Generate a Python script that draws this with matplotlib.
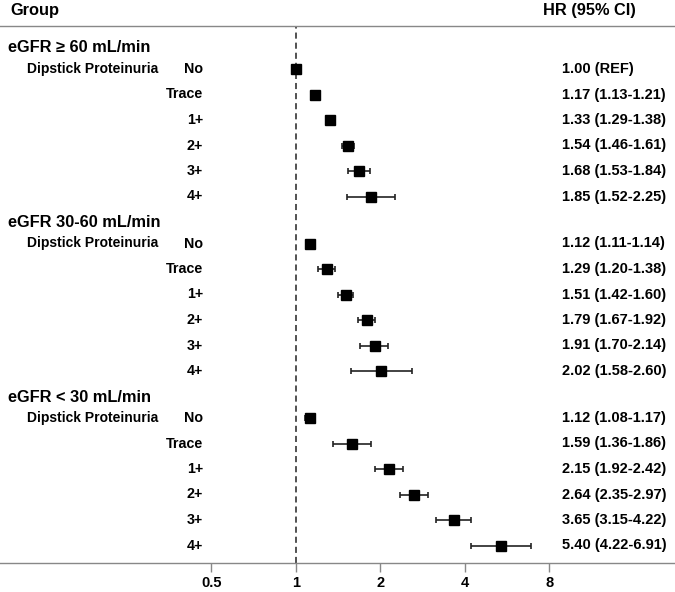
import matplotlib
matplotlib.use("Agg")
import matplotlib.pyplot as plt
import matplotlib.transforms as mtransforms

plt.rcParams['font.family'] = ['Liberation Sans', 'DejaVu Sans']
plt.rcParams['font.weight'] = 'bold'

groups = ['eGFR \u2265 60 mL/min', 'eGFR 30-60 mL/min', 'eGFR < 30 mL/min']
categories = ['No', 'Trace', '1+', '2+', '3+', '4+']

hr = [
    [1.00, 1.17, 1.33, 1.54, 1.68, 1.85],
    [1.12, 1.29, 1.51, 1.79, 1.91, 2.02],
    [1.12, 1.59, 2.15, 2.64, 3.65, 5.40],
]
lower = [
    [1.00, 1.13, 1.29, 1.46, 1.53, 1.52],
    [1.11, 1.20, 1.42, 1.67, 1.70, 1.58],
    [1.08, 1.36, 1.92, 2.35, 3.15, 4.22],
]
upper = [
    [1.00, 1.21, 1.38, 1.61, 1.84, 2.25],
    [1.14, 1.38, 1.60, 1.92, 2.14, 2.60],
    [1.17, 1.86, 2.42, 2.97, 4.22, 6.91],
]
ref_row = (0, 0)
xticks = [0.5, 1, 2, 4, 8]

W, H = 675, 592
fig = plt.figure(figsize=(W / 100, H / 100), dpi=100)
top_px, bot_px = 26, 563
ax = fig.add_axes([0, (H - bot_px) / H, 1, (bot_px - top_px) / H])

# layout in pixels measured from the top rule
row_step = 25.5
header_gap = 21.0
group_step = 6 * row_step + header_gap + 0.5
first_header = 22.0

ax.set_xscale('log', base=2)
ax.set_xlim(2 ** (-295.7 / 84.5), 2 ** ((W - 295.7) / 84.5))
ax.set_ylim(bot_px - top_px, 0)

blend = mtransforms.blended_transform_factory(fig.transFigure, ax.transData)

for g, name in enumerate(groups):
    gy = first_header + g * group_step
    ax.text(8 / W, gy, name, transform=blend, fontsize=11.8,
            ha='left', va='center')
    for i, cat in enumerate(categories):
        y = gy + header_gap + i * row_step
        if i == 0:
            ax.text(27 / W, y, 'Dipstick Proteinuria', transform=blend,
                    fontsize=10, ha='left', va='center')
        ax.text(203 / W, y, cat, transform=blend, fontsize=10.3,
                ha='right', va='center')
        h, lo, hi = hr[g][i], lower[g][i], upper[g][i]
        if (g, i) == ref_row:
            label = '%.2f (REF)' % h
        else:
            label = '%.2f (%.2f-%.2f)' % (h, lo, hi)
            ax.errorbar(h, y, xerr=[[h - lo], [hi - h]], fmt='none',
                        ecolor='#222222', elinewidth=1.2, capsize=2.3,
                        capthick=1.2, zorder=2)
        ax.plot(h, y, 's', color='black', markersize=6.8, zorder=3)
        ax.text(562 / W, y, label, transform=blend, fontsize=10.5,
                ha='left', va='center')

ax.axvline(1, color='#222222', lw=1.1, ls=(0, (4, 2.6)), zorder=1)

fig.text(10 / W, (H - 11) / H, 'Group', fontsize=11.8, ha='left', va='center')
fig.text(543 / W, (H - 11) / H, 'HR (95% CI)', fontsize=11.8, ha='left', va='center')

for side in ['left', 'right']:
    ax.spines[side].set_visible(False)
for side in ['top', 'bottom']:
    ax.spines[side].set_color('#888888')
    ax.spines[side].set_linewidth(1.0)
ax.set_yticks([])
ax.set_xticks(xticks)
ax.set_xticklabels(['0.5', '1', '2', '4', '8'])
ax.minorticks_off()
ax.tick_params(axis='x', length=6.5, width=1.0, color='#888888',
               labelsize=10.5, pad=3)

fig.savefig('out.png', dpi=100)
